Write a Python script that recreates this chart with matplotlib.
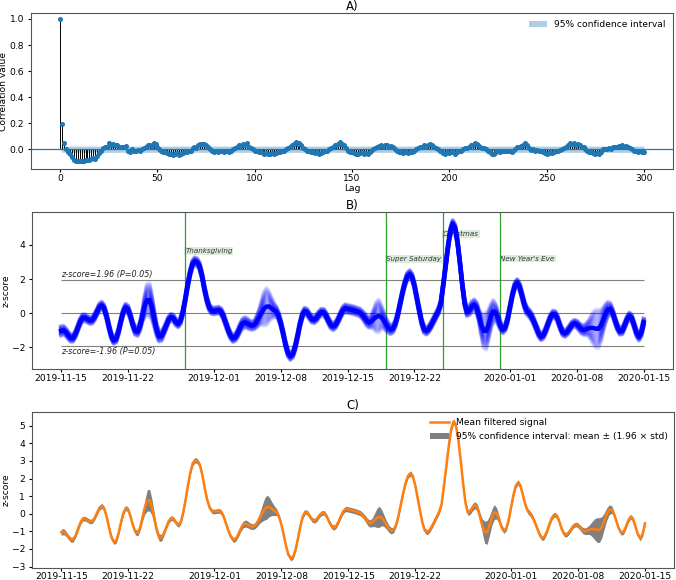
import numpy as np
import pandas as pd
import matplotlib
matplotlib.use('Agg')
import matplotlib.pyplot as plt
import matplotlib.dates as mdates
from matplotlib.lines import Line2D
from matplotlib.patches import Patch

# ---------------- data ----------------
# A) autocorrelation, lags 0..300
acf_vals = [
    1.0, 0.19, 0.045, 0.0, -0.02, -0.04, -0.06, -0.085, -0.09, -0.088,
    -0.09, -0.092, -0.088, -0.08, -0.085, -0.08, -0.075, -0.07, -0.075, -0.05,
    -0.03, -0.01, 0.01, 0.02, 0.02, 0.05, 0.03, 0.04, 0.035, 0.03,
    0.02, 0.02, 0.015, 0.02, 0.022, -0.01, -0.02, 0.0, -0.015, -0.01,
    -0.005, -0.01, 0.0, 0.01, 0.02, 0.03, 0.03, 0.025, 0.05, 0.04,
    0.02, 0.0, -0.01, -0.02, -0.025, -0.03, -0.035, -0.04, -0.045, -0.04,
    -0.03, -0.045, -0.04, -0.03, -0.025, -0.02, -0.015, -0.01, 0.01, 0.02,
    0.01, 0.03, 0.04, 0.04, 0.04, 0.035, 0.02, 0.0, -0.01, -0.02,
    -0.015, -0.02, -0.01, -0.015, -0.02, -0.01, -0.015, -0.02, -0.01, 0.0,
    0.01, 0.02, 0.03, 0.025, 0.04, 0.03, 0.045, 0.02, 0.01, 0.0,
    -0.01, -0.015, -0.02, -0.025, -0.03, -0.035, -0.03, -0.04, -0.035, -0.03,
    -0.035, -0.03, -0.025, -0.02, -0.015, -0.01, 0.0, 0.01, 0.02, 0.03,
    0.04, 0.055, 0.04, 0.045, 0.03, 0.01, 0.0, -0.01, -0.01, -0.02,
    -0.025, -0.03, -0.02, -0.035, -0.03, -0.02, -0.015, -0.01, 0.0, 0.01,
    0.02, 0.03, 0.035, 0.04, 0.055, 0.04, 0.03, 0.01, -0.01, -0.02,
    -0.025, -0.03, -0.035, -0.04, -0.03, -0.025, -0.035, -0.03, -0.04, -0.02,
    -0.01, 0.0, 0.01, 0.02, 0.025, 0.03, 0.025, 0.035, 0.03, 0.02,
    0.025, 0.015, 0.0, -0.01, -0.02, -0.025, -0.03, -0.025, -0.02, -0.03,
    -0.025, -0.02, -0.01, 0.0, 0.01, 0.015, 0.02, 0.03, 0.025, 0.035,
    0.04, 0.03, 0.02, 0.01, 0.0, -0.01, -0.02, -0.03, -0.035, -0.025,
    -0.03, -0.02, -0.025, -0.035, -0.02, -0.01, -0.015, 0.0, 0.01, 0.01,
    0.02, 0.03, 0.03, 0.045, 0.04, 0.035, 0.02, 0.01, 0.01, 0.0,
    -0.01, -0.02, -0.035, -0.04, -0.02, -0.015, -0.02, -0.01, -0.015, -0.01,
    -0.015, -0.01, -0.02, -0.01, 0.0, 0.02, 0.02, 0.025, 0.03, 0.05,
    0.03, 0.01, -0.005, 0.0, -0.01, -0.005, -0.01, -0.015, -0.02, -0.03,
    -0.035, -0.03, -0.025, -0.03, -0.02, -0.015, -0.01, -0.005, 0.0, 0.01,
    0.02, 0.035, 0.05, 0.04, 0.045, 0.035, 0.04, 0.03, 0.02, 0.015,
    0.0, -0.01, -0.02, -0.025, -0.03, -0.035, -0.03, -0.035, -0.02, 0.0,
    0.005, 0.0, 0.01, 0.005, 0.015, 0.02, 0.015, 0.025, 0.02, 0.03,
    0.02, 0.025, 0.02, 0.01, 0.0, -0.01, -0.015, -0.02, -0.015, -0.025, -0.02,
]
acf_conf = 0.024

# B) / C) mean filtered z-score, every 6 hours from 2019-11-15
mean_z = [
    -1.05, -1.01, -1.13, -1.32,
    -1.47, -1.47, -1.24, -0.88,
    -0.51, -0.28, -0.28, -0.36,
    -0.44, -0.42, -0.23, 0.05,
    0.34, 0.45, 0.29, -0.17,
    -0.78, -1.33, -1.61, -1.54,
    -1.10, -0.49, 0.05, 0.33,
    0.23, -0.16, -0.67, -1.04,
    -1.10, -0.79, -0.21, 0.39,
    0.76, 0.77, 0.33, -0.33,
    -0.98, -1.37, -1.35, -1.08,
    -0.74, -0.40, -0.24, -0.30,
    -0.52, -0.64, -0.46, 0.06,
    0.80, 1.63, 2.35, 2.87,
    3.05, 2.98, 2.75, 2.20,
    1.45, 0.80, 0.35, 0.15,
    0.12, 0.15, 0.17, 0.08,
    -0.20, -0.61, -1.01, -1.33,
    -1.49, -1.42, -1.18, -0.86,
    -0.62, -0.55, -0.61, -0.70,
    -0.74, -0.68, -0.49, -0.24,
    0.02, 0.26, 0.38, 0.39,
    0.29, 0.18, 0.10, -0.15,
    -0.60, -1.20, -1.85, -2.35,
    -2.54, -2.43, -2.01, -1.38,
    -0.68, -0.14, 0.11, 0.05,
    -0.17, -0.36, -0.40, -0.28,
    -0.08, 0.05, 0.04, -0.16,
    -0.46, -0.71, -0.79, -0.68,
    -0.42, -0.11, 0.16, 0.28,
    0.24, 0.21, 0.18, 0.14,
    0.09, 0.04, -0.08, -0.25,
    -0.45, -0.56, -0.49, -0.35,
    -0.23, -0.17, -0.23, -0.41,
    -0.65, -0.86, -0.97, -0.91,
    -0.62, -0.10, 0.56, 1.21,
    1.77, 2.16, 2.29, 2.11,
    1.60, 0.88, 0.15, -0.52,
    -0.96, -1.05, -0.93, -0.70,
    -0.43, -0.15, 0.12, 0.55,
    1.60, 2.75, 3.85, 4.80,
    5.25, 5.00, 4.20, 3.00,
    1.70, 0.60, 0.05, 0.16,
    0.38, 0.49, 0.32, -0.15,
    -0.69, -1.05, -1.06, -0.69,
    -0.20, 0.10, 0.02, -0.33,
    -0.75, -0.97, -0.85, -0.37,
    0.35, 1.06, 1.59, 1.78,
    1.55, 1.05, 0.50, 0.15,
    0.00, -0.20, -0.50, -0.85,
    -1.20, -1.40, -1.30, -1.00,
    -0.61, -0.25, -0.06, -0.09,
    -0.37, -0.79, -1.12, -1.20,
    -1.09, -0.89, -0.69, -0.60,
    -0.66, -0.81, -0.95, -1.00,
    -0.95, -0.89, -0.87, -0.88,
    -0.92, -0.93, -0.75, -0.40,
    -0.03, 0.22, 0.25, 0.01,
    -0.42, -0.83, -1.08, -1.05,
    -0.74, -0.38, -0.17, -0.30,
    -0.72, -1.17, -1.40, -1.15,
    -0.55,
]

# half width of the 95% band (1.96 x std), same time steps
half_ci = [
    0.18, 0.17, 0.15, 0.14,
    0.14, 0.14, 0.13, 0.13,
    0.13, 0.13, 0.13, 0.13,
    0.13, 0.13, 0.13, 0.13,
    0.14, 0.14, 0.13, 0.13,
    0.13, 0.13, 0.13, 0.13,
    0.13, 0.13, 0.13, 0.14,
    0.14, 0.13, 0.13, 0.15,
    0.16, 0.17, 0.20, 0.40,
    0.60, 0.62, 0.45, 0.30,
    0.22, 0.20, 0.19, 0.15,
    0.13, 0.13, 0.13, 0.13,
    0.13, 0.13, 0.13, 0.13,
    0.13, 0.13, 0.13, 0.14,
    0.15, 0.15, 0.14, 0.13,
    0.13, 0.13, 0.13, 0.13,
    0.13, 0.13, 0.13, 0.13,
    0.13, 0.13, 0.13, 0.13,
    0.14, 0.14, 0.15, 0.17,
    0.19, 0.20, 0.19, 0.17,
    0.16, 0.17, 0.22, 0.30,
    0.45, 0.62, 0.68, 0.55,
    0.40, 0.28, 0.20, 0.15,
    0.13, 0.13, 0.13, 0.13,
    0.14, 0.13, 0.13, 0.13,
    0.13, 0.13, 0.13, 0.13,
    0.13, 0.13, 0.13, 0.13,
    0.13, 0.13, 0.13, 0.13,
    0.13, 0.14, 0.14, 0.13,
    0.13, 0.13, 0.14, 0.15,
    0.15, 0.15, 0.15, 0.15,
    0.15, 0.15, 0.15, 0.17,
    0.19, 0.20, 0.24, 0.38,
    0.55, 0.60, 0.45, 0.32,
    0.24, 0.20, 0.18, 0.15,
    0.13, 0.13, 0.13, 0.13,
    0.13, 0.14, 0.15, 0.14,
    0.13, 0.13, 0.13, 0.13,
    0.14, 0.14, 0.13, 0.13,
    0.13, 0.13, 0.13, 0.13,
    0.13, 0.13, 0.13, 0.13,
    0.14, 0.14, 0.13, 0.13,
    0.13, 0.14, 0.15, 0.18,
    0.20, 0.20, 0.20, 0.22,
    0.40, 0.62, 0.68, 0.55,
    0.45, 0.42, 0.32, 0.22,
    0.16, 0.14, 0.13, 0.13,
    0.13, 0.13, 0.13, 0.14,
    0.14, 0.14, 0.14, 0.15,
    0.15, 0.15, 0.14, 0.13,
    0.13, 0.13, 0.13, 0.13,
    0.13, 0.13, 0.13, 0.13,
    0.13, 0.13, 0.13, 0.13,
    0.13, 0.13, 0.13, 0.13,
    0.14, 0.15, 0.17, 0.19,
    0.22, 0.30, 0.45, 0.60,
    0.70, 0.70, 0.60, 0.45,
    0.35, 0.28, 0.22, 0.15,
    0.13, 0.13, 0.13, 0.13,
    0.13, 0.13, 0.13, 0.13,
    0.13, 0.13, 0.14, 0.15,
    0.15,
]

holidays = ['Thanksgiving', 'Super Saturday', 'Christmas', "New Year's Eve"]
holiday_dates = ['2019-11-28', '2019-12-19', '2019-12-25', '2019-12-31']
holiday_label_y = [3.65, 3.2, 4.65, 3.2]
z_crit = 1.96

# ---------------- figure ----------------
plt.rcParams['font.size'] = 6.6
plt.rcParams['axes.edgecolor'] = '#555555'
plt.rcParams['axes.linewidth'] = 0.8
plt.rcParams['xtick.major.size'] = 1.8
plt.rcParams['ytick.major.size'] = 2.5
plt.rcParams['xtick.major.pad'] = 1.5
plt.rcParams['ytick.major.pad'] = 2.5

fig = plt.figure(figsize=(6.76, 5.8), dpi=100)
axA = fig.add_axes([0.0459, 0.7086, 0.9497, 0.2690])
axB = fig.add_axes([0.0473, 0.3638, 0.9480, 0.2707])
axC = fig.add_axes([0.0473, 0.0207, 0.9500, 0.2690])

# ---- A) ACF ----
acf = np.array(acf_vals)
lags = np.arange(len(acf))
ci = np.full(len(acf), acf_conf)
ci[0] = 0.0
axA.vlines(lags, 0, acf, colors='k', lw=0.7)
axA.plot(lags, acf, 'o', color='C0', ms=2.6)
axA.axhline(0, color='C0', lw=0.9)
axA.fill_between(lags, -ci, ci, color='C0', alpha=0.35, lw=0,
                 label='95% confidence interval')
axA.set_xlim(-15, 315)
axA.set_ylim(-0.152, 1.046)
axA.set_xlabel('Lag', labelpad=1)
axA.set_ylabel('Correlation value')
axA.yaxis.set_label_coords(-0.036, 0.5)
axA.set_title('A)', fontsize=8.5, pad=2)
axA.legend(loc='upper right', frameon=False, borderaxespad=0.4)

# ---- B) ensemble of filtered signals ----
t = pd.date_range('2019-11-15', periods=len(mean_z), freq='6h')
mz = np.array(mean_z)
hw = np.array(half_ci)

for k in np.linspace(-1.6, 1.6, 25):
    axB.plot(t, mz + k * hw, color='blue', alpha=0.13, lw=3, zorder=3)
axB.plot(t, mz, color='blue', lw=3.2, zorder=3)

axB.hlines([z_crit, 0, -z_crit], t[0], t[-1], colors='grey', lw=0.8, zorder=2)
axB.text(t[0], z_crit + 0.06, 'z-score=1.96 (P=0.05)', style='italic',
         fontsize=5.8, va='bottom', ha='left', color='#222222')
axB.text(t[0], -z_crit - 0.06, 'z-score=-1.96 (P=0.05)', style='italic',
         fontsize=5.8, va='top', ha='left', color='#222222')

for name, d, ly in zip(holidays, holiday_dates, holiday_label_y):
    dd = pd.Timestamp(d)
    axB.axvline(dd, color='#2ca02c', lw=0.9, zorder=2.5)
    axB.text(dd, ly, name, style='italic', fontsize=5.1, va='center',
             ha='left', color='#333333', zorder=1,
             bbox=dict(facecolor='#dcebdc', edgecolor='none', pad=0.6))

axB.set_ylim(-3.29, 5.94)
axB.set_yticks([-2, 0, 2, 4])
axB.set_ylabel('z-score')
axB.yaxis.set_label_coords(-0.034, 0.5)
axB.set_title('B)', fontsize=8.5, pad=2)

# ---- C) mean and confidence band ----
axC.fill_between(t, mz - hw, mz + hw, color='grey', lw=0)
axC.plot(t, mz, color='C1', lw=1.8)
axC.set_ylim(-3.08, 5.78)
axC.set_yticks(np.arange(-3, 6))
axC.set_ylabel('z-score')
axC.yaxis.set_label_coords(-0.033, 0.5)
axC.set_title('C)', fontsize=8.5, pad=2)
handles = [Line2D([], [], color='C1', lw=1.8),
           Patch(facecolor='grey')]
axC.legend(handles, ['Mean filtered signal',
                     '95% confidence interval: mean \u00b1 (1.96 \u00d7 std)'],
           loc='upper right', frameon=False, borderaxespad=0.3)
axC.tick_params(axis='x', pad=0.8)

pad = pd.Timedelta(days=3.05)
for ax in (axB, axC):
    ax.set_xlim(t[0] - pad, t[-1] + pad)
    ax.xaxis.set_major_locator(mdates.DayLocator(bymonthday=[1, 8, 15, 22]))
    ax.xaxis.set_major_formatter(mdates.DateFormatter('%Y-%m-%d'))

fig.savefig('out.png', dpi=100)
